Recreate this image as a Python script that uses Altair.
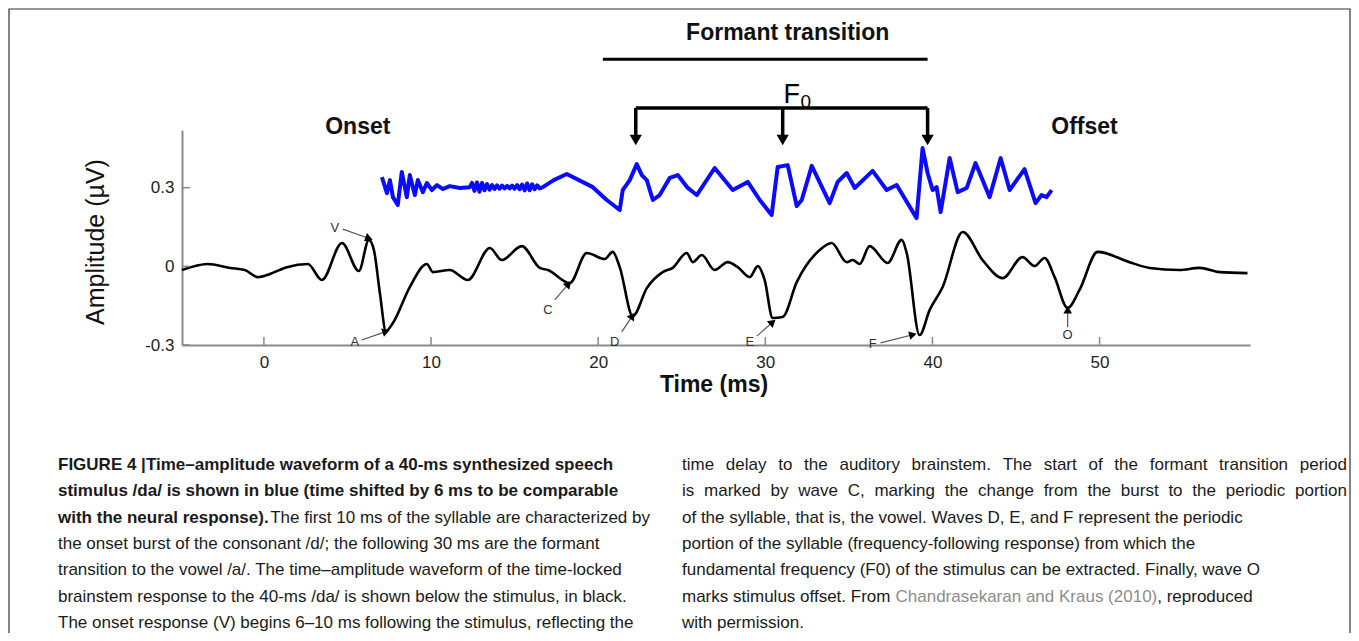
import altair as alt
import pandas as pd

# ---------------- data ----------------
# brainstem response (black): time (ms), amplitude (uV)
resp_t = [-4.90, -3.35, -2.03, -1.14, -0.36, 0.36, 1.38, 2.63, 3.47, 4.67, 5.68, 6.28, 6.58, 6.94, 7.30,
          7.72, 8.73, 9.75, 10.11, 11.12, 12.20, 13.52, 14.23, 15.43, 16.51, 16.99, 18.30, 19.32, 20.39,
          20.87, 21.29, 22.07, 22.91, 23.86, 24.46, 25.30, 25.66, 26.20, 26.97, 27.75, 28.35, 29.07, 29.55,
          29.96, 30.44, 31.04, 31.88, 33.25, 33.97, 34.87, 35.23, 35.65, 36.24, 37.32, 38.16, 38.46, 39.23,
          39.83, 40.61, 41.81, 43.00, 44.20, 45.39, 46.11, 46.71, 47.31, 48.09, 48.80, 49.88, 51.79, 52.99,
          54.78, 55.98, 57.18, 58.85]
resp_a = [-0.014, 0.009, -0.006, -0.014, -0.041, -0.029, -0.003, 0.009, -0.052, 0.089, -0.018, 0.101, 0.063,
          -0.102, -0.247, -0.216, -0.079, 0.009, -0.022, -0.014, -0.052, 0.070, 0.024, 0.077, -0.006, -0.014,
          -0.064, 0.051, 0.028, 0.055, -0.003, -0.190, -0.083, -0.022, -0.006, 0.051, 0.016, 0.043, -0.014,
          0.016, -0.003, -0.041, 0.001, -0.052, -0.197, -0.193, -0.060, 0.062, 0.089, 0.016, 0.024, 0.009,
          0.077, 0.013, 0.101, 0.051, -0.262, -0.167, -0.079, 0.131, 0.024, -0.045, 0.035, 0.001, 0.032,
          -0.041, -0.159, -0.090, 0.055, 0.016, -0.006, -0.014, -0.006, -0.022, -0.026]

# stimulus /da/ (blue), drawn offset above the response
stim_onset_t = [7.06, 7.36, 7.54, 7.72, 8.01, 8.25, 8.55, 8.73, 9.03, 9.21, 9.51, 9.75, 10.05, 10.35,
                10.71, 11.12, 11.72, 12.32]
stim_onset_a = [0.340, 0.279, 0.329, 0.264, 0.234, 0.360, 0.264, 0.348, 0.272, 0.329, 0.283, 0.318, 0.291,
                0.310, 0.295, 0.306, 0.299, 0.302]
stim_burst_t = [12.45, 12.60, 12.75, 12.90, 13.05, 13.20, 13.35, 13.50, 13.65, 13.80, 13.95, 14.10, 14.25,
                14.40, 14.55, 14.70, 14.85, 15.00, 15.15, 15.30, 15.45, 15.60, 15.75, 15.90, 16.05, 16.20,
                16.35, 16.50]
stim_burst_a = [0.318, 0.288, 0.320, 0.285, 0.318, 0.290, 0.314, 0.292, 0.310, 0.295, 0.309, 0.296, 0.308,
                0.297, 0.307, 0.297, 0.308, 0.296, 0.310, 0.294, 0.312, 0.290, 0.316, 0.290, 0.313, 0.294,
                0.309, 0.297]
stim_vowel_t = [16.69, 17.34, 18.12, 19.68, 20.51, 21.29, 21.47, 21.89, 22.31, 22.61, 22.91, 23.27, 23.68,
                24.28, 24.76, 25.36, 25.90, 26.97, 28.05, 28.95, 29.67, 30.38, 30.74, 31.34, 31.88, 32.18,
                32.78, 33.85, 34.33, 34.87, 35.35, 36.42, 37.26, 37.86, 39.05, 39.41, 39.71, 40.01, 40.25,
                40.49, 41.03, 41.51, 42.05, 42.58, 43.42, 44.08, 44.62, 45.51, 46.17, 46.53, 46.83, 47.13]
stim_vowel_a = [0.302, 0.329, 0.352, 0.302, 0.253, 0.215, 0.291, 0.329, 0.390, 0.348, 0.329, 0.253, 0.272,
                0.337, 0.348, 0.299, 0.272, 0.375, 0.291, 0.322, 0.253, 0.196, 0.379, 0.386, 0.230, 0.253,
                0.383, 0.241, 0.322, 0.356, 0.299, 0.364, 0.291, 0.310, 0.184, 0.451, 0.356, 0.291, 0.302,
                0.207, 0.413, 0.283, 0.299, 0.394, 0.264, 0.413, 0.291, 0.371, 0.241, 0.272, 0.264, 0.291]

x_ticks = [0, 10, 20, 30, 40, 50]
y_ticks = [-0.3, 0, 0.3]

# wave labels and their arrows
wave_labels = ["V", "A", "C", "D", "E", "F", "O"]
label_t = [4.25, 5.44, 16.99, 20.99, 29.07, 36.42, 48.09]
label_a = [0.146, -0.289, -0.166, -0.289, -0.289, -0.296, -0.262]
arrow_t0 = [4.72, 5.86, 17.40, 21.41, 29.49, 36.90, 48.09]
arrow_a0 = [0.142, -0.281, -0.128, -0.250, -0.266, -0.292, -0.231]
arrow_t1 = [6.22, 7.24, 18.18, 22.01, 30.38, 38.76, 48.09]
arrow_a1 = [0.108, -0.250, -0.071, -0.193, -0.216, -0.262, -0.170]
arrow_ang = [110, 71, 41, 34, 49, 76, 0]

# F0 bracket and formant transition bar
f0_t = [22.25, 31.04, 39.71]
f0_bar_a = 0.604
f0_tip_a = 0.482
formant_t = [20.28, 39.71]
formant_a = 0.790

section_labels = ["Onset", "Offset", "Formant transition"]
section_t = [5.62, 49.10, 31.34]
section_a = [0.531, 0.531, 0.890]

caption_left = [
    "FIGURE 4 |Time–amplitude waveform of a 40-ms synthesized speech",
    "stimulus /da/ is shown in blue (time shifted by 6 ms to be comparable",
    "with the neural response).",
    "The first 10 ms of the syllable are characterized by",
    "the onset burst of the consonant /d/; the following 30 ms are the formant",
    "transition to the vowel /a/. The time–amplitude waveform of the time-locked",
    "brainstem response to the 40-ms /da/ is shown below the stimulus, in black.",
    "The onset response (V) begins 6–10 ms following the stimulus, reflecting the",
]
caption_right = [
    "time delay to the auditory brainstem. The start of the formant transition period",
    "is marked by wave C, marking the change from the burst to the periodic portion",
    "of the syllable, that is, the vowel. Waves D, E, and F represent the periodic",
    "portion of the syllable (frequency-following response) from which the",
    "fundamental frequency (F0) of the stimulus can be extracted. Finally, wave O",
    "marks stimulus offset. From ",
    "Chandrasekaran and Kraus (2010)",
    ", reproduced",
    "with permission.",
]

# ---------------- layout ----------------
W, H = 1068, 215
PAD = {"left": 174, "top": 122, "right": 101, "bottom": 288}
OX, OY = 182, 130  # page position of plot origin
FONT = "Liberation Sans"
CAP_FS = 17
CAP_X = [58, 682]
CAP_RIGHT = [650, 1347]
CAP_Y0, CAP_LH = 465, 26.3
TXT = "#1a1a1a"

# Arial / Liberation Sans advance widths (per 1000 em) for justified lines
AW = {" ": 278, ".": 278, ",": 278, ";": 278, "(": 333, ")": 333, "-": 333, "/": 278,
      "a": 556, "b": 556, "c": 500, "d": 556, "e": 556, "f": 278, "g": 556, "h": 556, "i": 222,
      "j": 222, "k": 500, "l": 222, "m": 833, "n": 556, "o": 556, "p": 556, "q": 556, "r": 333,
      "s": 500, "t": 278, "u": 556, "v": 500, "w": 722, "x": 500, "y": 500, "z": 500,
      "C": 722, "F": 611, "K": 667, "T": 611, "0": 556, "1": 556, "2": 556}


def tw(s, fs=CAP_FS):
    return sum(AW.get(ch, 556) for ch in s) * fs / 1000.0


xs = alt.Scale(domain=[-4.9, 59.0], nice=False, zero=False)
ys = alt.Scale(domain=[-0.3, 0.52], nice=False, zero=False)
axis_common = dict(domainColor="#8a8a8a", domainWidth=2, ticks=False, grid=False,
                   labelFont=FONT, labelFontSize=17, labelColor="#222", title=None)
x_axis = alt.Axis(values=x_ticks, labelPadding=9, **axis_common)
y_axis = alt.Axis(values=y_ticks, labelPadding=8,
                  labelExpr="replace(format(datum.value, '.1~f'), '\u2212', '-')", **axis_common)
one = pd.DataFrame({"k": [0]})


def X(f):
    return alt.X(f, type="quantitative", scale=xs, axis=x_axis)


def Y(f):
    return alt.Y(f, type="quantitative", scale=ys, axis=y_axis)


resp_df = pd.DataFrame({"t": resp_t, "a": resp_a})
stim_df = pd.DataFrame({"t": stim_onset_t + stim_burst_t + stim_vowel_t,
                        "a": stim_onset_a + stim_burst_a + stim_vowel_a})

response = alt.Chart(resp_df).mark_line(color="black", strokeWidth=2.6, interpolate="monotone").encode(
    x=X("t"), y=Y("a"))
stimulus = alt.Chart(stim_df).mark_line(color="#0b0bff", strokeWidth=4, strokeJoin="round").encode(
    x=X("t"), y=Y("a"))

xt = alt.Chart(pd.DataFrame({"t": x_ticks})).mark_rule(color="#8a8a8a", strokeWidth=1.5).encode(
    x=X("t"), y=alt.value(H), y2=alt.value(H - 8))
yt = alt.Chart(pd.DataFrame({"a": y_ticks})).mark_rule(color="#8a8a8a", strokeWidth=1.5).encode(
    y=Y("a"), x=alt.value(0), x2=alt.value(8))

ann = pd.DataFrame({"lab": wave_labels, "lt": label_t, "la": label_a, "t0": arrow_t0, "a0": arrow_a0,
                    "t1": arrow_t1, "a1": arrow_a1, "ang": arrow_ang})
ann_text = alt.Chart(ann).mark_text(font=FONT, fontSize=13, color="#333", baseline="middle").encode(
    x=X("lt"), y=Y("la"), text="lab:N")
ann_shaft = alt.Chart(ann).mark_rule(color="#555", strokeWidth=1.2).encode(
    x=X("t0"), y=Y("a0"), x2="t1:Q", y2="a1:Q")
ann_head = alt.Chart(ann).mark_point(shape="triangle", filled=True, color="black", size=75, opacity=1).encode(
    x=X("t1"), y=Y("a1"), angle=alt.Angle("ang:Q", scale=None))

f0_df = pd.DataFrame({"t": f0_t, "top": [f0_bar_a] * 3, "tip": [f0_tip_a] * 3})
f0_bar = alt.Chart(pd.DataFrame({"t": [f0_t[0]], "t2": [f0_t[-1]], "a": [f0_bar_a]})).mark_rule(
    color="black", strokeWidth=3.5).encode(x=X("t"), x2="t2:Q", y=Y("a"))
f0_stems = alt.Chart(f0_df).mark_rule(color="black", strokeWidth=3.5).encode(
    x=X("t"), y=Y("top"), y2="tip:Q")
f0_heads = alt.Chart(f0_df).mark_point(shape="triangle-down", filled=True, color="black", size=150,
                                       opacity=1).encode(x=X("t"), y=Y("tip"))
f0_F = alt.Chart(pd.DataFrame({"t": [31.58], "a": [0.653]})).mark_text(
    text="F", font=FONT, fontSize=27, color="black", baseline="middle").encode(x=X("t"), y=Y("a"))
f0_sub = alt.Chart(pd.DataFrame({"t": [32.42], "a": [0.628]})).mark_text(
    text="0", font=FONT, fontSize=19, color="black", baseline="middle").encode(x=X("t"), y=Y("a"))

formant_bar = alt.Chart(pd.DataFrame({"t": [formant_t[0]], "t2": [formant_t[1]], "a": [formant_a]})).mark_rule(
    color="black", strokeWidth=3).encode(x=X("t"), x2="t2:Q", y=Y("a"))
sections = alt.Chart(pd.DataFrame({"lab": section_labels, "t": section_t, "a": section_a})).mark_text(
    font=FONT, fontSize=23, fontWeight="bold", color="#111", baseline="middle").encode(
    x=X("t"), y=Y("a"), text="lab:N")

ytitle = alt.Chart(one).mark_text(text="Amplitude (µV)", font=FONT, fontSize=25, angle=270,
                                  color="#111", baseline="middle").encode(
    x=alt.value(96 - OX), y=alt.value(242 - OY))
xtitle = alt.Chart(one).mark_text(text="Time (ms)", font=FONT, fontSize=23, fontWeight="bold",
                                  color="#111", baseline="middle").encode(
    x=alt.value(714 - OX), y=alt.value(385 - OY))

frame = alt.Chart(one).mark_rect(fill=None, stroke="#333", strokeWidth=1.2).encode(
    x=alt.value(9 - OX), x2=alt.value(1350 - OX), y=alt.value(9 - OY), y2=alt.value(660 - OY))


def cap(txt, px, line, weight="normal", color=TXT, align="left"):
    return alt.Chart(one).mark_text(text=txt, font=FONT, fontSize=CAP_FS, fontWeight=weight, color=color,
                                    align=align, baseline="middle").encode(
        x=alt.value(px - OX), y=alt.value(CAP_Y0 + line * CAP_LH - OY))


def justified(txt, x0, x1, line):
    words = txt.split(" ")
    widths = [tw(w) for w in words]
    gap = (x1 - x0 - sum(widths)) / (len(words) - 1)
    out, x = [], x0
    for w, wd in zip(words, widths):
        out.append(cap(w, x, line))
        x += wd + gap
    return out


L, R = caption_left, caption_right
caption_layers = [
    cap(L[0], CAP_X[0], 0, "bold"),
    cap(L[1], CAP_X[0], 1, "bold"),
    cap(L[2], CAP_X[0], 2, "bold"),
    cap(L[3], CAP_RIGHT[0], 2, align="right"),
    cap(L[4], CAP_X[0], 3),
    cap(L[5], CAP_X[0], 4),
    cap(L[6], CAP_X[0], 5),
    cap(L[7], CAP_X[0], 6),
]
caption_layers += justified(R[0], CAP_X[1], CAP_RIGHT[1], 0)
caption_layers += justified(R[1], CAP_X[1], CAP_RIGHT[1], 1)
caption_layers += [
    cap(R[2], CAP_X[1], 2),
    cap(R[3], CAP_X[1], 3),
    cap(R[4], CAP_X[1], 4),
    cap(R[5], CAP_X[1], 5),
    cap(R[6], CAP_X[1] + tw(R[5]), 5, color="#8c8c8c"),
    cap(R[7], CAP_X[1] + tw(R[5]) + tw(R[6]), 5),
    cap(R[8], CAP_X[1], 6),
]

chart = alt.layer(
    frame, response, stimulus, xt, yt, ann_shaft, ann_head, ann_text,
    formant_bar, f0_bar, f0_stems, f0_heads, f0_F, f0_sub, sections, ytitle, xtitle,
    *caption_layers
).properties(
    width=W, height=H, autosize=alt.AutoSizeParams(type="none"), padding=PAD
).configure_view(stroke=None)

chart.save("out.html", embed_options={"renderer": "svg", "actions": False})
